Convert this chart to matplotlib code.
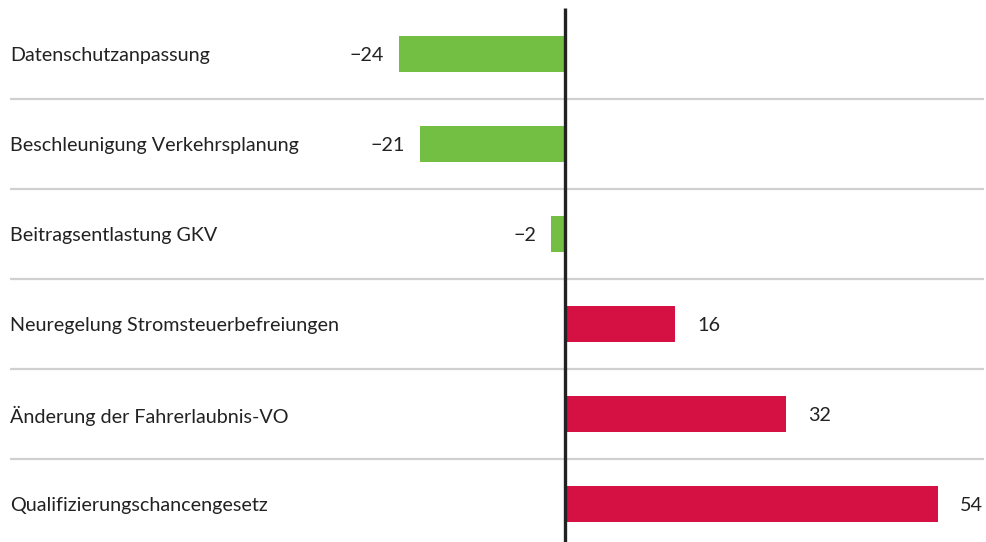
import matplotlib
matplotlib.use("Agg")
import matplotlib.pyplot as plt

plt.rcParams['font.family'] = ['Lato', 'DejaVu Sans']

labels = ['Datenschutzanpassung', 'Beschleunigung Verkehrsplanung', 'Beitragsentlastung GKV',
          'Neuregelung Stromsteuerbefreiungen', 'Änderung der Fahrerlaubnis-VO',
          'Qualifizierungschancengesetz']
values = [-24, -21, -2, 16, 32, 54]

green = '#72bf44'
red = '#d51043'

W, H = 986, 542
zero_px = 565
px_per_unit = 6.9
row_px = 90
first_row_px = 54

fig = plt.figure(figsize=(W / 100, H / 100), dpi=100)
ax = fig.add_axes([0, 0, 1, 1])
ax.set_xlim(-zero_px / px_per_unit, (W - zero_px) / px_per_unit)
ax.set_ylim((H - first_row_px) / row_px, -first_row_px / row_px)
ax.axis('off')

ypos = list(range(len(values)))
colors = [green if v < 0 else red for v in values]
ax.barh(ypos, values, height=36 / row_px, color=colors, zorder=2)

# separators between rows
x0 = ax.get_xlim()[0] + 10 / px_per_unit
x1 = ax.get_xlim()[0] + 984 / px_per_unit
for i in range(len(values) - 1):
    ax.plot([x0, x1], [i + 0.5, i + 0.5], color='#d0d0d0', lw=1.6, zorder=1,
            solid_capstyle='butt')

# zero line
ax.plot([0, 0], [-first_row_px / row_px + 8 / row_px, ax.get_ylim()[0]],
        color='#222222', lw=2.4, zorder=3, solid_capstyle='butt')

for y, lab, v in zip(ypos, labels, values):
    ax.text(x0, y + 0.02, lab, ha='left', va='center', fontsize=14.2, color='#222222')
    txt = str(v).replace('-', '\u2212')
    if v < 0:
        ax.annotate(txt, (v, y + 0.02), xytext=(-11, 0), textcoords='offset points',
                    ha='right', va='center', fontsize=14.2, color='#222222')
    else:
        ax.annotate(txt, (v, y + 0.02), xytext=(16, 0), textcoords='offset points',
                    ha='left', va='center', fontsize=14.2, color='#222222')

fig.savefig('out.png', dpi=100)
